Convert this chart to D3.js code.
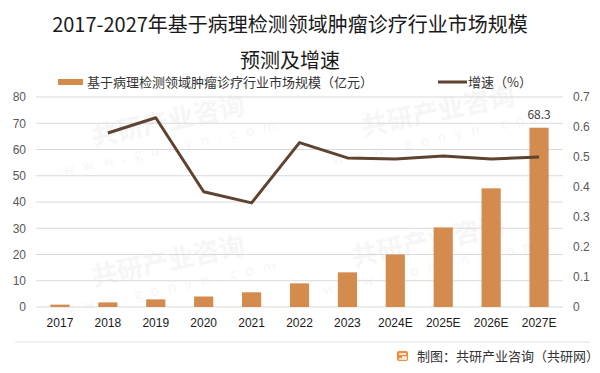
<!DOCTYPE html>
<html>
<head>
<meta charset="utf-8">
<script src="https://cdn.jsdelivr.net/npm/d3@7"></script>
<style>
  body { margin: 0; background: #fff; }
  svg { display: block; font-family: "Microsoft YaHei", "Noto Sans CJK SC", sans-serif; }
</style>
</head>
<body>
<svg width="600" height="373"></svg>
<script>
// data
var years = ["2017", "2018", "2019", "2020", "2021", "2022", "2023", "2024E", "2025E", "2026E", "2027E"];
var marketSize = [0.9, 1.75, 2.9, 4.0, 5.6, 9.0, 13.2, 20.0, 30.3, 45.2, 68.3];
var growth = [null, 0.58, 0.631, 0.384, 0.347, 0.548, 0.497, 0.493, 0.503, 0.493, 0.50];
var leftTicks = [0, 10, 20, 30, 40, 50, 60, 70, 80];
var rightTicks = [0, 0.1, 0.2, 0.3, 0.4, 0.5, 0.6, 0.7];
var titleLines = ["2017-2027年基于病理检测领域肿瘤诊疗行业市场规模", "预测及增速"];
var barName = "基于病理检测领域肿瘤诊疗行业市场规模（亿元）";
var lineName = "增速（%）";

var svg = d3.select("svg");
var barColor = "#d38b4e",
    lineColor = "#5e4330";

// faint watermarks
var wm = svg.append("g").attr("class", "watermark");
[[170, 130], [440, 120], [170, 270], [430, 250]].forEach(function(p) {
    var g = wm.append("g").attr("transform", "translate(" + p[0] + "," + p[1] + ") rotate(-12)");
    g.append("text").attr("text-anchor", "middle").attr("font-size", 26).attr("font-weight", "bold")
        .attr("fill", "#000").attr("opacity", 0.03).text("共研产业咨询");
    g.append("text").attr("text-anchor", "middle").attr("y", 22).attr("font-size", 14)
        .attr("letter-spacing", 9).attr("fill", "#000").attr("opacity", 0.03).text("www.gonyn.com");
});

var x = d3.scaleBand()
    .domain(years)
    .range([36, 563])
    .paddingInner(0.6)
    .paddingOuter(0.3);

var yLeft = d3.scaleLinear().domain([0, 80]).range([307, 97]);
var yRight = d3.scaleLinear().domain([0, 0.7]).range([307, 97]);

// title
svg.append("g").selectAll("text")
    .data(titleLines)
    .enter().append("text")
    .attr("x", 290)
    .attr("y", (d, i) => 32 + i * 36)
    .attr("text-anchor", "middle")
    .attr("font-size", 20)
    .attr("fill", "#1a1a1a")
    .text((d) => d);

// legend
svg.append("rect").attr("x", 58).attr("y", 79).attr("width", 25).attr("height", 6).attr("fill", barColor);
svg.append("text").attr("x", 87).attr("y", 87).attr("font-size", 13).attr("fill", "#333").text(barName);
svg.append("line").attr("x1", 438).attr("x2", 467).attr("y1", 82).attr("y2", 82)
    .attr("stroke", lineColor).attr("stroke-width", 3);
svg.append("text").attr("x", 468).attr("y", 87).attr("font-size", 13).attr("fill", "#333").text(lineName);

// gridlines
svg.append("g").selectAll("line")
    .data(leftTicks)
    .enter().append("line")
    .attr("x1", 36).attr("x2", 563)
    .attr("y1", (d) => yLeft(d)).attr("y2", (d) => yLeft(d))
    .attr("stroke", "#d9d9d9")
    .attr("stroke-width", 1);

// left axis
var gl = svg.append("g")
    .attr("transform", "translate(30,0)")
    .call(d3.axisLeft(yLeft).tickValues(leftTicks).tickSize(0).tickPadding(4));
gl.select(".domain").remove();
gl.selectAll("text").attr("font-size", 12).attr("fill", "#595959").attr("font-family", null);

// right axis
var gr = svg.append("g")
    .attr("transform", "translate(569,0)")
    .call(d3.axisRight(yRight).tickValues(rightTicks).tickSize(0).tickPadding(4)
        .tickFormat((d) => d === 0 ? "0" : d3.format(".1f")(d)));
gr.select(".domain").remove();
gr.selectAll("text").attr("font-size", 12).attr("fill", "#595959").attr("font-family", null);

// x axis
var gx = svg.append("g")
    .attr("transform", "translate(0,314)")
    .call(d3.axisBottom(x).tickSize(0).tickPadding(4));
gx.select(".domain").remove();
gx.selectAll("text").attr("font-size", 12).attr("fill", "#1a1a1a").attr("font-family", null);

// bars
svg.append("g").selectAll("rect")
    .data(years)
    .enter().append("rect")
    .attr("x", (d) => x(d))
    .attr("width", x.bandwidth())
    .attr("y", (d, i) => yLeft(marketSize[i]))
    .attr("height", (d, i) => yLeft(0) - yLeft(marketSize[i]))
    .attr("fill", barColor);

// data label on last bar
var last = years.length - 1;
svg.append("text")
    .attr("x", x(years[last]) + x.bandwidth() / 2)
    .attr("y", yLeft(marketSize[last]) - 9)
    .attr("text-anchor", "middle")
    .attr("font-size", 12)
    .attr("fill", "#404040")
    .text(marketSize[last]);

// growth line
var line = d3.line()
    .defined((d) => d != null)
    .x((d, i) => x(years[i]) + x.bandwidth() / 2)
    .y((d) => yRight(d));

svg.append("path")
    .datum(growth)
    .attr("d", line)
    .attr("fill", "none")
    .attr("stroke", lineColor)
    .attr("stroke-width", 3)
    .attr("stroke-linejoin", "round");

// footer
svg.append("line").attr("x1", 15).attr("x2", 590).attr("y1", 342).attr("y2", 342)
    .attr("stroke", "#e3e3e3").attr("stroke-width", 1);
var logo = svg.append("g").attr("transform", "translate(397,351)");
logo.append("rect").attr("width", 11).attr("height", 10).attr("rx", 2).attr("fill", "#f08a3c");
logo.append("path").attr("d", "M2,3 H9 M5,6 H9 V8 H2").attr("stroke", "#fff").attr("stroke-width", 1.4).attr("fill", "none");
svg.append("text").attr("x", 417).attr("y", 361).attr("font-size", 13).attr("fill", "#333")
    .text("制图：共研产业咨询（共研网）");
</script>
</body>
</html>
